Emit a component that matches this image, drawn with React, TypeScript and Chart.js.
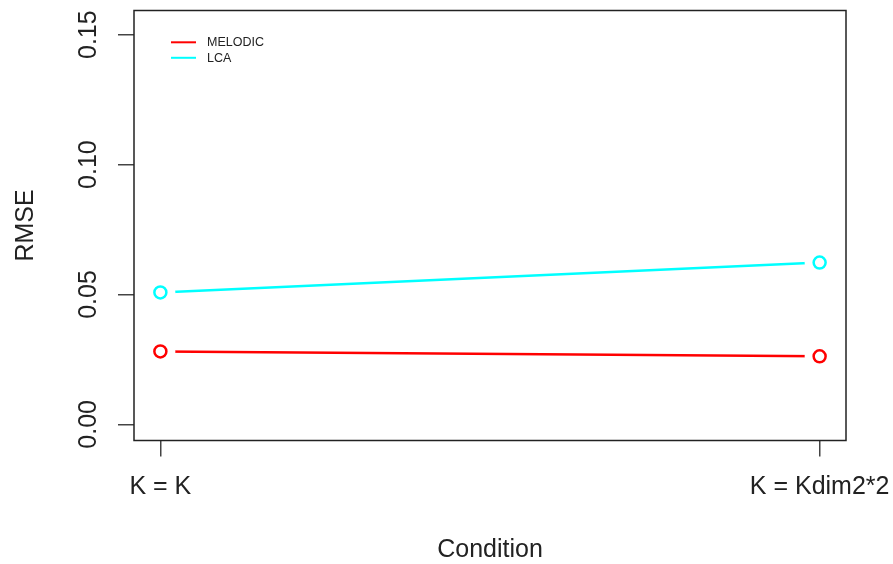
import React, { useEffect, useRef } from "react";
import { Chart, registerables } from "chart.js";

Chart.register(...registerables);

const categories = ["K = K", "K = Kdim2*2"];
const seriesNames = ["MELODIC", "LCA"];
const seriesColors = ["#ff0000", "#00ffff"];
const melodicValues = [0.0281, 0.0262];
const lcaValues = [0.0508, 0.0623];
const yTickValues = [0, 0.05, 0.1, 0.15];
const xTickValues = [1, 2];

const FONT = "'Liberation Sans', Arial, Helvetica, sans-serif";

const boxPlugin = {
  id: "rbox",
  afterDraw(chart: any) {
    const { ctx, chartArea } = chart;
    ctx.save();
    ctx.strokeStyle = "#222";
    ctx.lineWidth = 1.5;
    ctx.strokeRect(chartArea.left, chartArea.top, chartArea.right - chartArea.left, chartArea.bottom - chartArea.top);
    ctx.restore();
  },
};

const gapPlugin = {
  id: "gapLines",
  beforeDatasetDraw(chart: any, args: any) {
    const ds = chart.data.datasets[args.index];
    if (!ds.gapRadius) return;
    const meta = chart.getDatasetMeta(args.index);
    const ctx = chart.ctx;
    ctx.save();
    ctx.beginPath();
    ctx.rect(0, 0, chart.width, chart.height);
    meta.data.forEach((pt: any) => {
      ctx.moveTo(pt.x + ds.gapRadius, pt.y);
      ctx.arc(pt.x, pt.y, ds.gapRadius, 0, Math.PI * 2);
    });
    ctx.clip("evenodd");
  },
  afterDatasetDraw(chart: any, args: any) {
    const ds = chart.data.datasets[args.index];
    if (!ds.gapRadius) return;
    chart.ctx.restore();
  },
};

const legendPlugin = {
  id: "rlegend",
  afterDraw(chart: any) {
    const { ctx } = chart;
    ctx.save();
    ctx.font = `12.5px ${FONT}`;
    ctx.textBaseline = "middle";
    ctx.textAlign = "left";
    seriesNames.forEach((name, i) => {
      const y = 42.3 + i * 15.5;
      ctx.strokeStyle = seriesColors[i];
      ctx.lineWidth = 2;
      ctx.beginPath();
      ctx.moveTo(171, y);
      ctx.lineTo(196, y);
      ctx.stroke();
      ctx.fillStyle = "#222";
      ctx.fillText(name, 207, y + 0.5);
    });
    ctx.restore();
  },
};

export default function App() {
  const ref = useRef<HTMLCanvasElement>(null);
  useEffect(() => {
    if (!ref.current) return;
    const seriesValues = [melodicValues, lcaValues];
    const datasets: any[] = [];
    seriesValues.forEach((vals, i) => {
      const data = vals.map((v, j) => ({ x: xTickValues[j], y: v }));
      datasets.push({
        label: seriesNames[i],
        data,
        borderColor: seriesColors[i],
        borderWidth: 2.5,
        pointRadius: 0,
        showLine: true,
        gapRadius: 15,
      });
      datasets.push({
        label: seriesNames[i] + " points",
        data,
        borderColor: seriesColors[i],
        backgroundColor: "rgba(0,0,0,0)",
        pointBorderColor: seriesColors[i],
        pointBackgroundColor: "rgba(0,0,0,0)",
        pointBorderWidth: 2.5,
        pointRadius: 6,
        showLine: false,
      });
    });
    const chart = new Chart(ref.current, {
      type: "scatter",
      data: { datasets },
      plugins: [gapPlugin, boxPlugin, legendPlugin],
      options: {
        animation: false,
        responsive: false,
        devicePixelRatio: 1,
        layout: { padding: { left: 0, right: 47, top: 10.5, bottom: 0 } },
        plugins: { legend: { display: false }, tooltip: { enabled: false } },
        scales: {
          x: {
            type: "linear",
            min: 0.96,
            max: 2.04,
            afterBuildTicks: (scale: any) => {
              scale.ticks = xTickValues.map((v) => ({ value: v }));
            },
            afterFit: (scale: any) => {
              scale.height = 123.5;
              scale.paddingLeft = 0;
              scale.paddingRight = 0;
            },
            ticks: {
              autoSkip: false,
              maxRotation: 0,
              minRotation: 0,
              padding: 16,
              color: "#222",
              font: { family: FONT, size: 25 },
              callback: (v: any) => categories[Math.round(Number(v)) - 1] ?? "",
            },
            grid: { display: true, drawOnChartArea: false, drawTicks: true, tickLength: 16, color: "#444", lineWidth: 1.5 },
            border: { display: false },
            title: { display: true, text: "Condition", color: "#222", font: { family: FONT, size: 25 }, padding: { top: 0, bottom: -1 } },
          },
          y: {
            type: "linear",
            min: -0.0062,
            max: 0.1593,
            afterBuildTicks: (scale: any) => {
              scale.ticks = yTickValues.map((v) => ({ value: v }));
            },
            afterFit: (scale: any) => {
              scale.width = 134;
              scale.paddingTop = 0;
              scale.paddingBottom = 0;
            },
            ticks: {
              minRotation: 90,
              maxRotation: 90,
              crossAlign: "center",
              padding: 4.4,
              color: "#222",
              font: { family: FONT, size: 25 },
              callback: (v: any) => Number(v).toFixed(2),
            },
            grid: { display: true, drawOnChartArea: false, drawTicks: true, tickLength: 16, color: "#444", lineWidth: 1.5 },
            border: { display: false },
            title: { display: true, text: "RMSE", color: "#222", font: { family: FONT, size: 25 }, padding: { top: 10.8, bottom: 0 } },
          },
        },
      } as any,
    });
    return () => chart.destroy();
  }, []);
  return (
    <div style={{ position: "fixed", left: 0, top: 0, width: 893, height: 564, background: "#fff" }}>
      <canvas ref={ref} width={893} height={564} style={{ display: "block", width: 893, height: 564 }} />
    </div>
  );
}
